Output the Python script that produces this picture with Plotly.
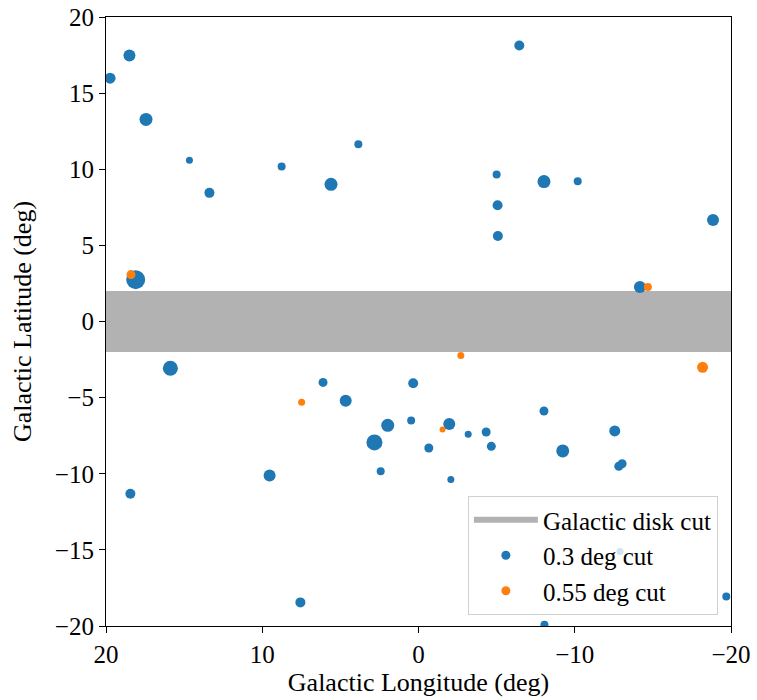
import plotly.graph_objects as go

# 0.3 deg cut sources: longitude, latitude, marker diameter
blue_l = [19.74, 18.5, 17.44, 14.66, 13.38, 8.76, 5.6, 3.85, 18.1,
          -6.45, -5.0, -8.03, -10.19, -5.06, -5.08, -18.85, -14.17,
          15.88, 18.44, 9.53, 7.56, 6.11, 4.66, 1.97, 2.82, 2.42, 0.47, 0.34,
          -8.03, -1.97, -3.18, -4.33, -0.66, -4.66, -2.07, -12.56, -9.23,
          -12.82, -13.03, -12.9, -19.7, -8.06]
blue_b = [15.98, 17.47, 13.27, 10.59, 8.45, 10.18, 9.01, 11.64, 2.75,
          18.13, 9.65, 9.19, 9.21, 7.64, 5.62, 6.67, 2.27,
          -3.07, -11.31, -10.12, -18.45, -4.0, -5.2, -6.82, -7.94, -9.84, -6.51, -4.06,
          -5.88, -6.73, -7.41, -7.26, -8.31, -8.2, -10.37, -7.19, -8.5,
          -9.51, -9.34, -15.1, -18.06, -19.92]
blue_size = [11, 12, 13, 7, 10, 8, 13, 8, 19,
             10, 8, 13, 8, 10, 10, 12, 12,
             15, 10, 12, 10, 9, 12, 13, 16, 8, 8, 10,
             9, 12, 7, 9, 9, 9, 7, 11, 13,
             9, 9, 7, 8, 8]

# 0.55 deg cut sources
orange_l = [18.4, -14.68, 7.48, -2.71, -18.18, -1.54]
orange_b = [3.08, 2.27, -5.31, -2.24, -3.01, -7.1]
orange_size = [9, 8, 7, 7, 11, 6]

disk_l = [20, -20, -20, 20]
disk_b = [-2, -2, 2, 2]

FONT = "Liberation Serif"
BLUE = "#1f77b4"
ORANGE = "#ff7f0e"

fig = go.Figure()

fig.add_trace(go.Scatter(
    x=disk_l, y=disk_b, fill="toself", mode="none",
    fillcolor="#b2b2b2", name="Galactic disk cut", hoverinfo="skip"
))
fig.add_trace(go.Scatter(
    x=blue_l, y=blue_b, mode="markers", name="0.3 deg cut", showlegend=False,
    marker=dict(color=BLUE, size=blue_size, opacity=1, line=dict(width=0))
))
fig.add_trace(go.Scatter(
    x=orange_l, y=orange_b, mode="markers", name="0.55 deg cut", showlegend=False,
    marker=dict(color=ORANGE, size=orange_size, opacity=1, line=dict(width=0))
))

# legend-only entries with small markers
for label, color in [("0.3 deg cut", BLUE), ("0.55 deg cut", ORANGE)]:
    fig.add_trace(go.Scatter(
        x=[None], y=[None], mode="markers", name=label,
        marker=dict(color=color, size=9, opacity=1, line=dict(width=0))
    ))

axis_style = dict(
    showgrid=False, zeroline=False, automargin=False,
    showline=True, linecolor="black", linewidth=1.2, mirror=True,
    ticks="outside", ticklen=6, tickwidth=1.2, tickcolor="black",
    tickfont=dict(family=FONT, size=25, color="black"),
)

fig.update_xaxes(
    range=[20, -20], tickvals=[20, 10, 0, -10, -20],
    title=dict(text="Galactic Longitude (deg)", font=dict(family=FONT, size=26, color="black"), standoff=2),
    **axis_style
)
fig.update_yaxes(
    range=[-20, 20], dtick=5,
    title=dict(text="Galactic Latitude (deg)", font=dict(family=FONT, size=26, color="black"), standoff=15),
    **axis_style
)

fig.update_layout(
    width=757, height=700,
    plot_bgcolor="white", paper_bgcolor="white",
    margin=dict(l=106, r=26, t=17, b=74),
    font=dict(family=FONT, color="black"),
    legend=dict(
        x=0.979, y=0.018, xanchor="right", yanchor="bottom",
        bgcolor="rgba(255,255,255,0.8)", bordercolor="#d0d0d0", borderwidth=1,
        font=dict(family=FONT, size=25, color="black"),
        itemwidth=64, tracegroupgap=0,
    ),
    showlegend=True,
)

fig.write_html("out.html", config={"displayModeBar": False},
               post_script="document.body.style.margin='0';")
